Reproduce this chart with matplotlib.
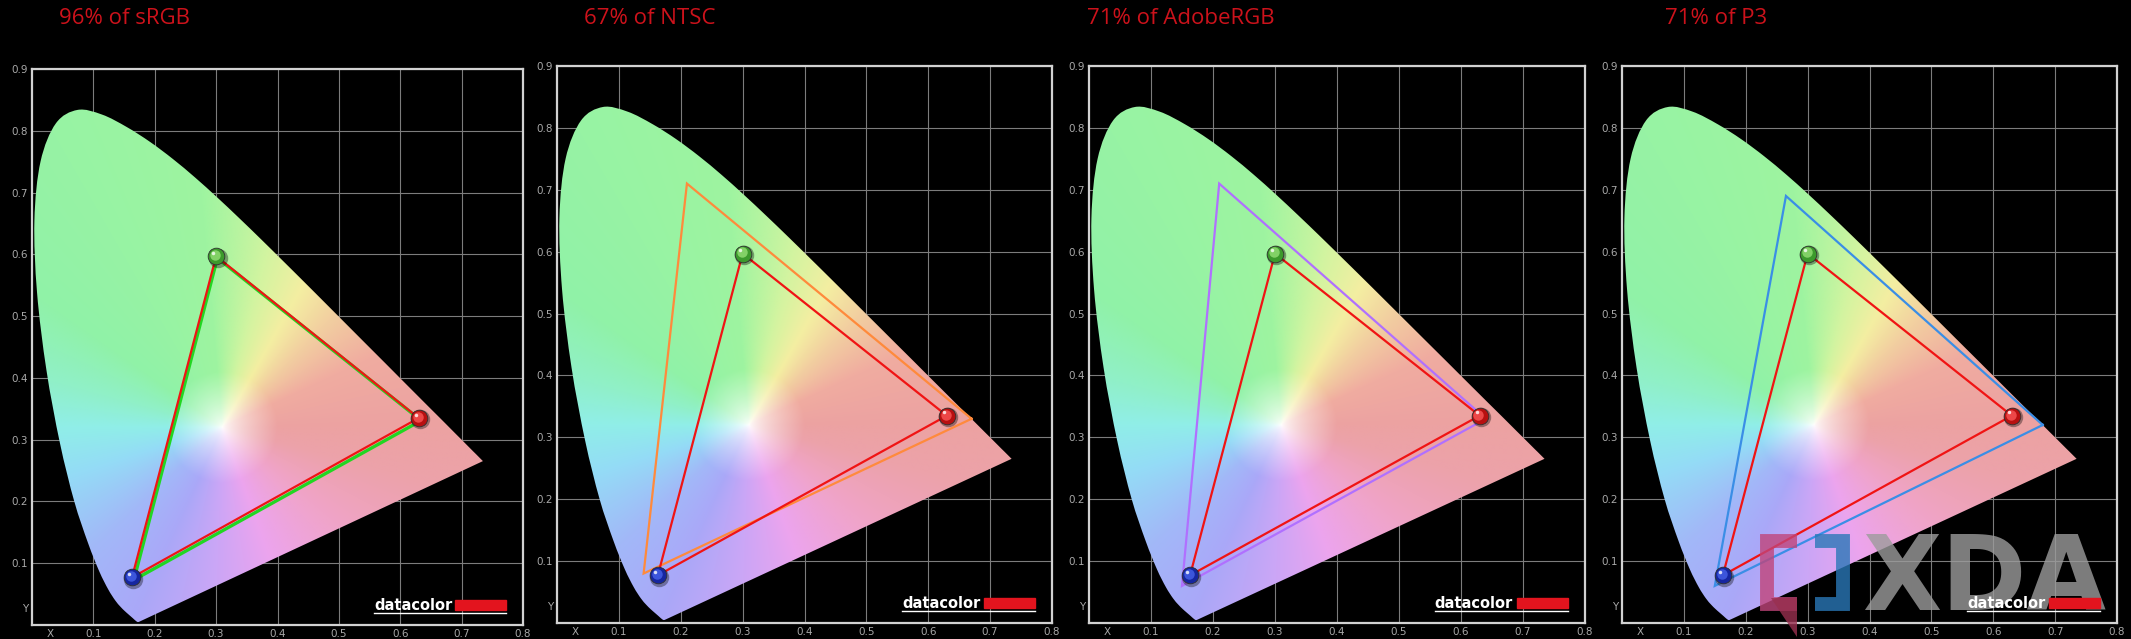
import numpy as np
import matplotlib
matplotlib.use("Agg")
import matplotlib.pyplot as plt
from matplotlib.patches import Polygon, Rectangle, PathPatch
from matplotlib.path import Path
from matplotlib.transforms import offset_copy
from matplotlib.colors import to_rgb

# CIE 1931 spectral locus (x, y), 380-700 nm
locus_x = [0.1741, 0.1740, 0.1738, 0.1736, 0.1733, 0.1730, 0.1726, 0.1721, 0.1714, 0.1703,
           0.1689, 0.1669, 0.1644, 0.1611, 0.1566, 0.1510, 0.1440, 0.1355, 0.1241, 0.1096,
           0.0913, 0.0687, 0.0454, 0.0235, 0.0082, 0.0039, 0.0139, 0.0389, 0.0743, 0.1142,
           0.1547, 0.1929, 0.2296, 0.2658, 0.3016, 0.3373, 0.3731, 0.4087, 0.4441, 0.4788,
           0.5125, 0.5448, 0.5752, 0.6029, 0.6270, 0.6482, 0.6658, 0.6801, 0.6915, 0.7006,
           0.7079, 0.7140, 0.7190, 0.7230, 0.7260, 0.7300, 0.7334, 0.7347]
locus_y = [0.0050, 0.0050, 0.0049, 0.0049, 0.0048, 0.0048, 0.0048, 0.0048, 0.0051, 0.0058,
           0.0069, 0.0086, 0.0109, 0.0138, 0.0177, 0.0227, 0.0297, 0.0399, 0.0578, 0.0868,
           0.1327, 0.2007, 0.2950, 0.4127, 0.5384, 0.6548, 0.7502, 0.8120, 0.8338, 0.8262,
           0.8059, 0.7816, 0.7543, 0.7243, 0.6923, 0.6589, 0.6245, 0.5896, 0.5547, 0.5202,
           0.4866, 0.4544, 0.4242, 0.3965, 0.3725, 0.3514, 0.3340, 0.3197, 0.3083, 0.2993,
           0.2920, 0.2859, 0.2809, 0.2770, 0.2740, 0.2700, 0.2666, 0.2653]

# pastel hue around the white point, by angle (deg)
hue_deg = [0, 25, 45, 60, 75, 95, 145, 165, 180, 197, 223, 245, 268, 290, 320, 345, 360]
hue_col = ["#eca2a2", "#f0aca0", "#f2cfa0", "#f4eea2", "#d4f4a0", "#9ef4a0", "#90f2a8",
           "#90f0c8", "#90eee8", "#94dcf6", "#a2b8f8", "#aaa8f8", "#cca6f6", "#eca4ee",
           "#f0a4c8", "#eca2aa", "#eca2a2"]

# measured display primaries (R, G, B)
disp_x = [0.630, 0.300, 0.163]
disp_y = [0.335, 0.597, 0.077]

# reference gamuts as drawn (R, G, B)
srgb_x = [0.634, 0.302, 0.166]
srgb_y = [0.331, 0.594, 0.073]
ntsc_x = [0.67, 0.21, 0.14]
ntsc_y = [0.33, 0.71, 0.08]
adobe_x = [0.64, 0.21, 0.15]
adobe_y = [0.33, 0.71, 0.06]
p3_x = [0.68, 0.265, 0.15]
p3_y = [0.32, 0.69, 0.06]

titles = ["96% of sRGB", "67% of NTSC", "71% of AdobeRGB", "71% of P3"]
gamut_colors = ["#22d622", "#ff8a3c", "#b070ff", "#3a8ee6"]
panels = [(srgb_x, srgb_y), (ntsc_x, ntsc_y), (adobe_x, adobe_y), (p3_x, p3_y)]

W, H = 2131, 639
fig = plt.figure(figsize=(W / 100, H / 100), dpi=100, facecolor="black")

# axes boxes in pixels: left, right, top, bottom
boxes = [(32, 523, 69, 625), (557, 1052, 66, 623), (1089, 1585, 66, 623), (1622, 2117, 66, 623)]
title_left = [59, 584, 1087, 1665]

# smooth outline through the locus points (Catmull-Rom as cubic Beziers)
pts = np.column_stack([locus_x, locus_y])
verts = [pts[0]]
codes = [Path.MOVETO]
n = len(pts)
for k in range(n - 1):
    p0 = pts[max(k - 1, 0)]
    p1, p2 = pts[k], pts[k + 1]
    p3 = pts[min(k + 2, n - 1)]
    verts += [p1 + (p2 - p0) / 6, p2 - (p3 - p1) / 6, p2]
    codes += [Path.CURVE4] * 3
verts += [pts[0], pts[0]]
codes += [Path.LINETO, Path.CLOSEPOLY]
shoe_path = Path(np.array(verts), codes)

# pastel chromaticity background
gx = np.linspace(0, 0.8, 480)
gy = np.linspace(0, 0.9, 540)
GX, GY = np.meshgrid(gx, gy)
wx, wy = 0.31, 0.32
ang = np.degrees(np.arctan2(GY - wy, GX - wx)) % 360
rad = np.hypot(GX - wx, GY - wy)
anchors = np.array([to_rgb(c) for c in hue_col])
cols = np.stack([np.interp(ang, hue_deg, anchors[:, k]) for k in range(3)], -1)
sat = np.clip(rad / 0.09, 0, 1) ** 0.7
pastel = 1 - sat[..., None] * (1 - cols)

dot_colors = [("#b81010", "#ff5a5a"), ("#3c9a2c", "#9ae47a"), ("#1626a0", "#4a66f0")]

for i, (gxs, gys) in enumerate(panels):
    l, r, t, b = boxes[i]
    ax = fig.add_axes([l / W, (H - b) / H, (r - l) / W, (b - t) / H])
    ax.set_facecolor("black")
    ax.set_xlim(0, 0.8)
    ax.set_ylim(0, 0.9)

    im = ax.imshow(pastel, extent=(0, 0.8, 0, 0.9), origin="lower", aspect="auto",
                   interpolation="bilinear", zorder=1)
    shoe = PathPatch(shoe_path, facecolor="none", edgecolor="none", transform=ax.transData)
    ax.add_patch(shoe)
    im.set_clip_path(shoe)

    ax.set_xticks(np.arange(1, 9) / 10, [f"0.{k}" for k in range(1, 9)])
    ax.set_yticks(np.arange(1, 10) / 10, [f"0.{k}" for k in range(1, 10)])
    ax.set_xticks([0.03], ["X"], minor=True)
    ax.set_yticks([0.028], ["Y"], minor=True)
    ax.tick_params(which="both", length=0, colors="#a8a8a8", labelsize=7.5, pad=3)
    ax.grid(True, which="major", color="#7c7c7c", lw=0.8, zorder=0.5)
    ax.set_axisbelow(True)
    for sp in ax.spines.values():
        sp.set_color("#d2d2d2")
        sp.set_linewidth(1.6)

    # reference gamut then measured gamut
    ax.plot(gxs + gxs[:1], gys + gys[:1], color=gamut_colors[i],
            lw=2.4 if i == 0 else 1.6, zorder=3, solid_joinstyle="miter")
    ax.plot(disp_x + disp_x[:1], disp_y + disp_y[:1], color="#f01414", lw=1.6, zorder=4)

    # glossy primary dots
    for j in range(3):
        base, light = dot_colors[j]
        ax.plot(disp_x[j], disp_y[j], "o", ms=14, color="black", alpha=0.35, mew=0,
                transform=offset_copy(ax.transData, fig, 1, -1, units="points"), zorder=5)
        ax.plot(disp_x[j], disp_y[j], "o", ms=12, mfc=base, mec="#303030", mew=0.6, zorder=6)
        ax.plot(disp_x[j], disp_y[j], "o", ms=7.5, color=light, alpha=0.75, mew=0,
                transform=offset_copy(ax.transData, fig, -0.8, 0.8, units="points"), zorder=7)
        ax.plot(disp_x[j], disp_y[j], "o", ms=2.5, color="white", alpha=0.8, mew=0,
                transform=offset_copy(ax.transData, fig, -2, 2.5, units="points"), zorder=8)

    # datacolor badge
    ax.text(0.697, 0.027, "datacolor", transform=ax.transAxes, color="white",
            fontsize=10.5, fontweight="bold", va="baseline", ha="left", zorder=10)
    ax.add_patch(Rectangle((0.862, 0.027), 0.103, 0.018, transform=ax.transAxes,
                           color="#e3141e", zorder=10))
    ax.plot([0.697, 0.965], [0.021, 0.021], transform=ax.transAxes, color="white",
            lw=1, zorder=10)

    fig.text(title_left[i] / W, 1 - 18 / H, titles[i], color="#cc121b", fontsize=16,
             family="Open Sans", ha="left", va="center")

# XDA watermark, under the datacolor badge of the last panel
tf = fig.transFigure
def fx(v):
    return [p / W for p in v]
def fy(v):
    return [1 - p / H for p in v]

ax.plot(fx([1797, 1767, 1767, 1797]), fy([541, 541, 604, 604]), color="#c0457a",
        alpha=0.8, lw=10, solid_joinstyle="miter", solid_capstyle="butt",
        transform=tf, clip_on=False, zorder=9)
ax.add_patch(Polygon(np.column_stack([fx([1771, 1797, 1797]), fy([598, 598, 637])]),
                     closed=True, color="#9a3050", alpha=0.8, lw=0, transform=tf,
                     clip_on=False, zorder=9))
ax.plot(fx([1815, 1843, 1843, 1815]), fy([541, 541, 604, 604]), color="#2a78b8",
        alpha=0.8, lw=10, solid_joinstyle="miter", solid_capstyle="butt",
        transform=tf, clip_on=False, zorder=9)
ax.text(1862 / W, 1 - 610 / H, "XDA", color="#9c9c9c", alpha=0.8, fontsize=74,
        fontweight="bold", ha="left", va="baseline", transform=tf, clip_on=False,
        zorder=9)

fig.savefig("out.png", dpi=100, facecolor="black")
